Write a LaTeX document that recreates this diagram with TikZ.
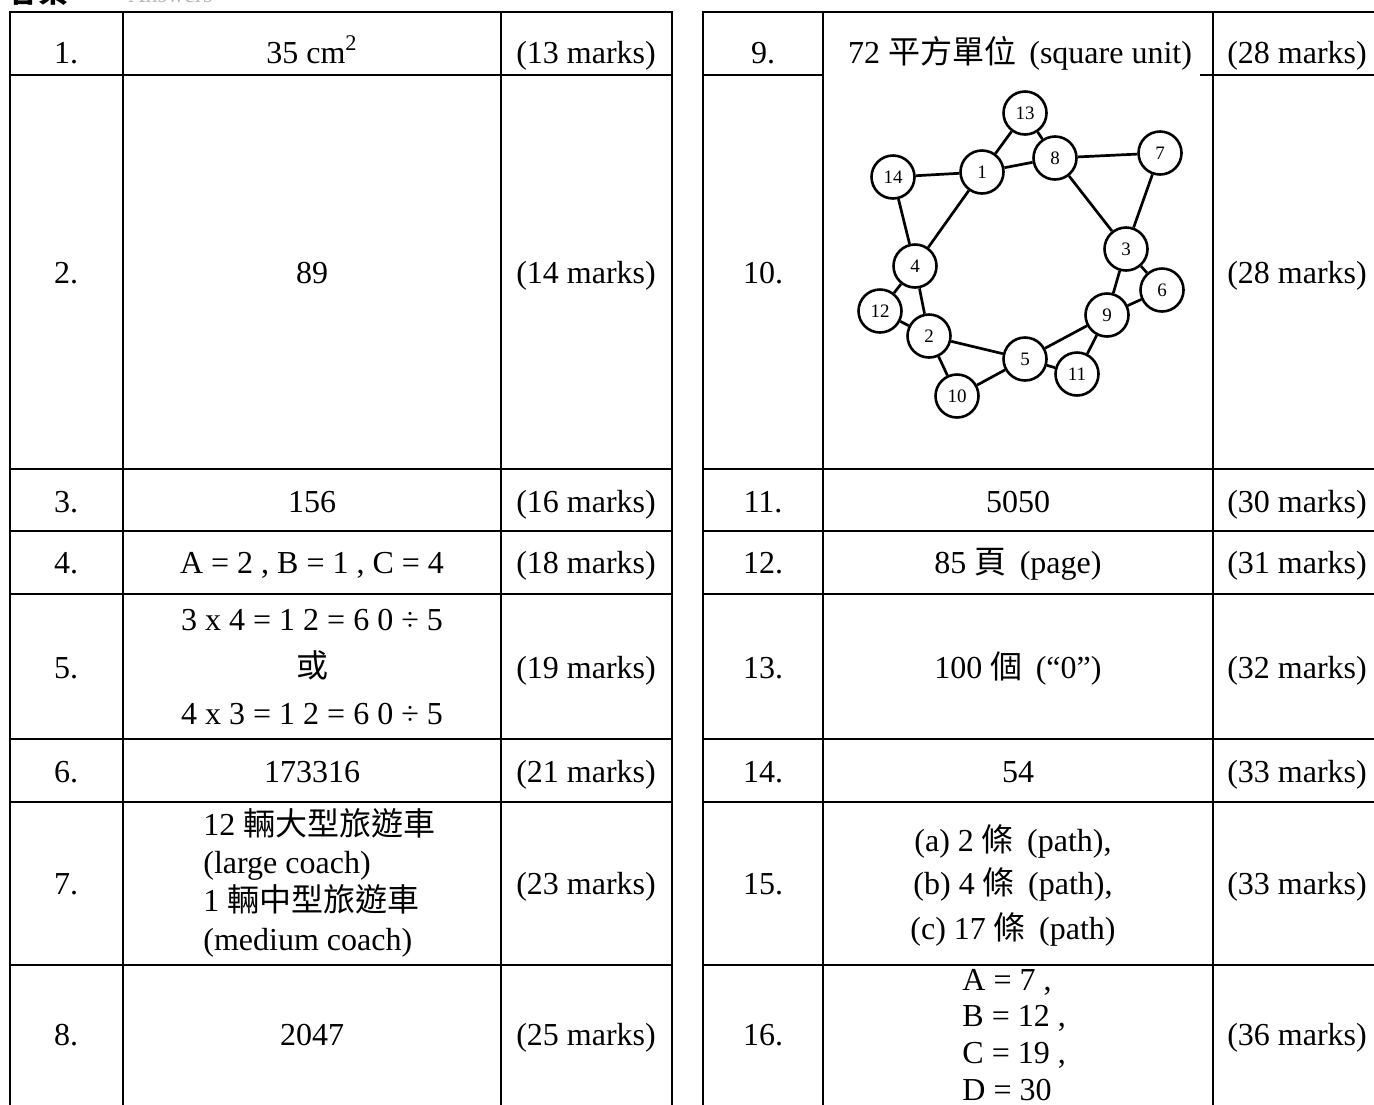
\documentclass[tikz,border=0pt]{standalone}
\usepackage{fontspec}
\setmainfont{Liberation Serif}
\newfontfamily\cjk{Noto Sans CJK TC}
\begin{document}
\begin{tikzpicture}[x=0.5pt,y=-0.5pt,
  grid/.style={line width=1.3pt},
  cell/.style={font=\fontsize{16}{19}\selectfont, inner sep=0pt, anchor=base},
  lcell/.style={cell, anchor=base west},
  gnode/.style={circle, draw, line width=1.3pt, minimum size=21.5pt, inner sep=0pt, fill=white, font=\fontsize{9.5}{10}\selectfont},
  gedge/.style={line width=1.35pt}]
\useasboundingbox (0,0) rectangle (1374,1104);
\clip (0,0) rectangle (1374,1104);

% header (cut off at the top edge)
\node[anchor=base west, inner sep=0pt, font=\cjk\bfseries\fontsize{15}{15}\selectfont] (hdr) at (8,2) {答案};
\node[anchor=base west, inner sep=0pt, text=gray!55, font=\fontsize{12}{12}\selectfont] (hdr2) at (128,2) {Answers};

% left table grid
\draw[grid] (10,12) rectangle (672,1106);
\foreach \xx in {123,501} \draw[grid] (\xx,12) -- (\xx,1106);
\foreach \yy in {75,469,531,594,739,802,965} \draw[grid] (10,\yy) -- (672,\yy);

% right table grid
\draw[grid] (703,12) rectangle (1380,1106);
\draw[grid] (823,12) -- (823,1106);
\draw[grid] (1213,12) -- (1213,1106);
\draw[grid] (703,75) -- (823,75);
\draw[grid] (1200,75) -- (1380,75);
\foreach \yy in {469,531,594,739,802,965} \draw[grid] (703,\yy) -- (1380,\yy);

% left table text
\node[cell] (l1a) at (66,63) {1.};
\node[cell] (l1b) at (312,63) {35 cm\textsuperscript{2}};
\node[cell] (l1c) at (586,63) {(13 marks)};
\node[cell] (l2a) at (66,283) {2.};
\node[cell] (l2b) at (312,283) {89};
\node[cell] (l2c) at (586,283) {(14 marks)};
\node[cell] (l3a) at (66,512) {3.};
\node[cell] (l3b) at (312,512) {156};
\node[cell] (l3c) at (586,512) {(16 marks)};
\node[cell] (l4a) at (66,573) {4.};
\node[cell] (l4b) at (312,573) {A = 2 , B = 1 , C = 4};
\node[cell] (l4c) at (586,573) {(18 marks)};
\node[cell] (l5a) at (66,678) {5.};
\node[cell] (l5b1) at (312,630) {3 x 4 = 1 2 = 6 0 ÷ 5};
\node[cell] (l5b2) at (312,677) {\cjk 或};
\node[cell] (l5b3) at (312,724) {4 x 3 = 1 2 = 6 0 ÷ 5};
\node[cell] (l5c) at (586,678) {(19 marks)};
\node[cell] (l6a) at (66,782) {6.};
\node[cell] (l6b) at (312,782) {173316};
\node[cell] (l6c) at (586,782) {(21 marks)};
\node[cell] (l7a) at (66,894) {7.};
\node[lcell] (l7b1) at (203,835) {12 {\cjk 輛大型旅遊車}};
\node[lcell] (l7b2) at (203,873) {(large coach)};
\node[lcell] (l7b3) at (203,911) {1 {\cjk 輛中型旅遊車}};
\node[lcell] (l7b4) at (203,950) {(medium coach)};
\node[cell] (l7c) at (586,894) {(23 marks)};
\node[cell] (l8a) at (66,1045) {8.};
\node[cell] (l8b) at (312,1045) {2047};
\node[cell] (l8c) at (586,1045) {(25 marks)};

% right table text
\node[cell] (r1a) at (763,63) {9.};
\node[cell] (r1b) at (1020,63) {72 {\cjk 平方單位} \,(square unit)};
\node[cell] (r1c) at (1297,63) {(28 marks)};
\node[cell] (r2a) at (763,283) {10.};
\node[cell] (r2c) at (1297,283) {(28 marks)};
\node[cell] (r3a) at (763,512) {11.};
\node[cell] (r3b) at (1018,512) {5050};
\node[cell] (r3c) at (1297,512) {(30 marks)};
\node[cell] (r4a) at (763,573) {12.};
\node[cell] (r4b) at (1018,573) {85 {\cjk 頁} \,(page)};
\node[cell] (r4c) at (1297,573) {(31 marks)};
\node[cell] (r5a) at (763,678) {13.};
\node[cell] (r5b) at (1018,678) {100 {\cjk 個} \,(“0”)};
\node[cell] (r5c) at (1297,678) {(32 marks)};
\node[cell] (r6a) at (763,782) {14.};
\node[cell] (r6b) at (1018,782) {54};
\node[cell] (r6c) at (1297,782) {(33 marks)};
\node[cell] (r7a) at (763,894) {15.};
\node[cell] (r7b1) at (1013,851) {(a) 2 {\cjk 條} \,(path),};
\node[cell] (r7b2) at (1013,894) {(b) 4 {\cjk 條} \,(path),};
\node[cell] (r7b3) at (1013,939) {(c) 17 {\cjk 條} \,(path)};
\node[cell] (r7c) at (1297,894) {(33 marks)};
\node[cell] (r8a) at (763,1045) {16.};
\node[lcell] (r8b1) at (962,990) {A = 7 ,};
\node[lcell] (r8b2) at (962,1026) {B = 12 ,};
\node[lcell] (r8b3) at (962,1063) {C = 19 ,};
\node[lcell] (r8b4) at (962,1100) {D = 30};
\node[cell] (r8c) at (1297,1045) {(36 marks)};

% graph (question 10)
\node[gnode] (g13) at (1025,113) {13};
\node[gnode] (g8)  at (1055,158) {8};
\node[gnode] (g7)  at (1160,153) {7};
\node[gnode] (g14) at (893,177) {14};
\node[gnode] (g1)  at (982,172) {1};
\node[gnode] (g3)  at (1126,249) {3};
\node[gnode] (g6)  at (1162,290) {6};
\node[gnode] (g9)  at (1107,315) {9};
\node[gnode] (g4)  at (915,266) {4};
\node[gnode] (g12) at (880,311) {12};
\node[gnode] (g2)  at (929,336) {2};
\node[gnode] (g5)  at (1025,359) {5};
\node[gnode] (g11) at (1077,374) {11};
\node[gnode] (g10) at (957,396) {10};
\foreach \a/\b in {13/1,13/8,14/1,1/8,8/7,14/4,1/4,8/3,7/3,3/6,3/9,6/9,4/12,4/2,12/2,2/5,2/10,10/5,5/9,5/11,9/11}
  \draw[gedge] (g\a) -- (g\b);
\end{tikzpicture}
\end{document}
